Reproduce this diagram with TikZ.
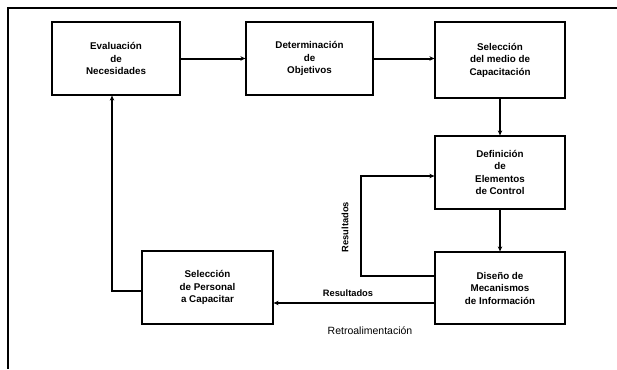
\documentclass[tikz,border=0pt]{standalone}
\usepackage{fontspec}
\setmainfont{Liberation Sans}
\usetikzlibrary{arrows.meta}
\begin{document}
\begin{tikzpicture}[x=1pt,y=1pt,
  box/.style={draw,line width=1.2pt,rectangle,align=center,inner sep=2pt,
    font=\fontsize{9.8}{12.5}\selectfont\bfseries},
  conn/.style={draw,line width=2pt,-{Stealth[length=5pt,width=4.5pt]}},
  lbl/.style={font=\fontsize{9.3}{11}\selectfont\bfseries}]
\useasboundingbox (0,0) rectangle (617,-369);
\draw[line width=1.1pt] (617,-8) -- (8,-8) -- (8,-369);
\node[box,minimum width=128pt,minimum height=73pt] (b1) at (116,-58.5) {Evaluación\\de\\Necesidades};
\node[box,minimum width=127pt,minimum height=73pt] (b2) at (309.5,-58.5) {Determinación\\de\\Objetivos};
\node[box,minimum width=130pt,minimum height=76pt] (b3) at (500,-60) {Selección\\del medio de\\Capacitación};
\node[box,minimum width=130pt,minimum height=73pt] (b4) at (500,-172.5) {Definición\\de\\Elementos\\de Control};
\node[box,minimum width=130pt,minimum height=72pt] (b5) at (500,-288) {Diseño de\\Mecanismos\\de Información};
\node[box,minimum width=131pt,minimum height=73pt] (b6) at (207.5,-287.5) {Selección\\de Personal\\a Capacitar};
\draw[conn] (b1.east) -- (b2.west);
\draw[conn] (b2.east) -- (b2.east -| b3.west);
\draw[conn] (b3.south) -- (b4.north);
\draw[conn] (b4.south) -- (b5.north);
\coordinate (fb) at (361,-226);
\draw[conn] ([yshift=12pt]b5.west) -| (fb) |- ([yshift=-3.5pt]b4.west);
\node[lbl,rotate=90] (r1) at (345,-227) {Resultados};
\coordinate (s5) at ([yshift=-15pt]b5.west);
\draw[conn] (s5) -- (s5 -| b6.east);
\node[lbl] (r2) at (348,-293) {Resultados};
\draw[conn] ([yshift=-3.5pt]b6.west) -| ([xshift=-4pt]b1.south);
\node[font=\fontsize{10.5}{12}\selectfont] (rt) at (370,-331) {Retroalimentación};
\end{tikzpicture}
\end{document}
